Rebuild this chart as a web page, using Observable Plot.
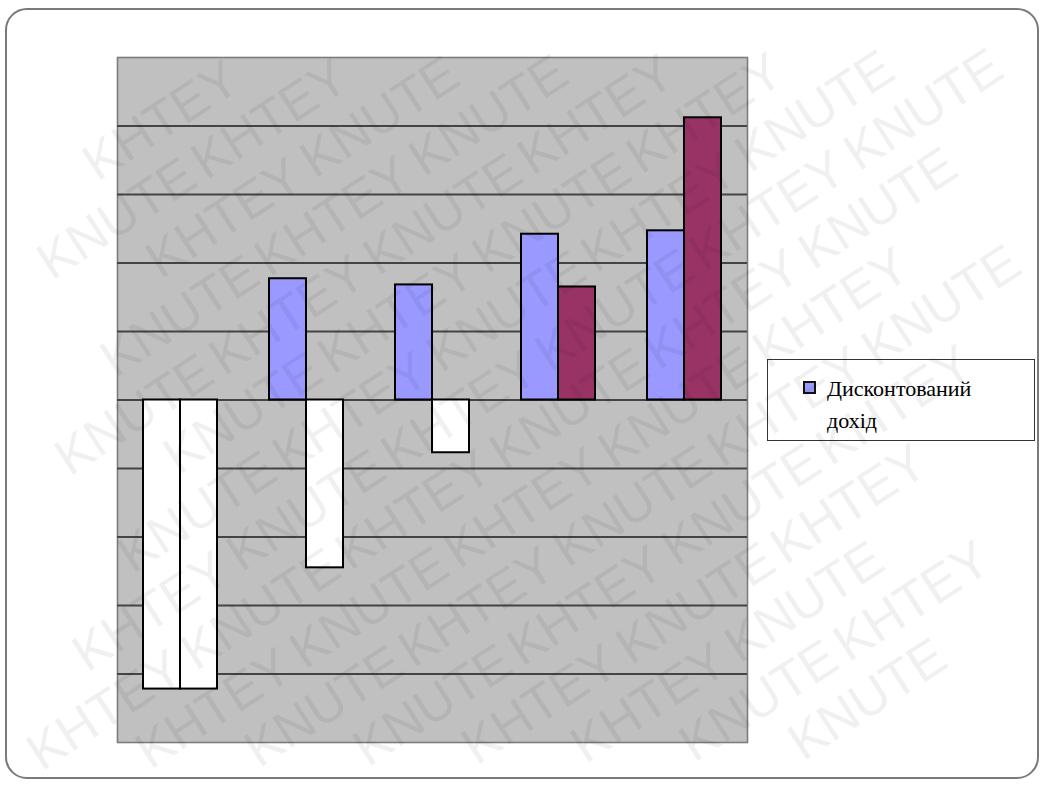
<!DOCTYPE html>
<html>
<head>
<meta charset="utf-8">
<script src="https://cdn.jsdelivr.net/npm/d3@7"></script>
<script src="https://cdn.jsdelivr.net/npm/@observablehq/plot@0.6"></script>
<style>
  html, body { margin: 0; padding: 0; background: #fff; }
  #wrap { position: relative; width: 1043px; height: 785px; overflow: hidden; }
  #border { position: absolute; left: 5px; top: 8px; width: 1034px; height: 771px;
            border: 2px solid #7a7a7a; border-radius: 22px; box-sizing: border-box; }
  #chart { position: absolute; left: 0; top: 0; }
  #legend { position: absolute; left: 767px; top: 359px; width: 268px; height: 82px;
            box-sizing: border-box; border: 1px solid #333; background: #fff;
            font-family: "Liberation Serif", "DejaVu Serif", "Times New Roman", serif; font-size: 22px;
            color: #000; }
  #legend .sw { position: absolute; left: 35px; top: 21px; width: 9px; height: 9px;
                border: 2px solid #111; }
  #legend .tx { position: absolute; left: 59px; top: 13px; line-height: 32px; }
  #wm { position: absolute; left: 0; top: 0; pointer-events: none; }
</style>
</head>
<body>
<div id="wrap">
  <div id="border"></div>
  <div id="chart"></div>
  <div id="legend"></div>
  <svg id="wm" width="1043" height="785"></svg>
</div>
<script>
// ---- data ----
const categories = ["1", "2", "3", "4", "5"];
const seriesNames = ["Дисконтований дохід", "Накопичений дисконтований дохід"];
const discountedIncome = [-422, 177, 168, 242, 247];
const cumulativeIncome = [-422, -245, -77, 165, 412];
const seriesColors = ["#9999ff", "#993366"];
const negativeFill = "#ffffff";
const yTicks = [-400, -300, -200, -100, 0, 100, 200, 300, 400];
const yDomain = [-500, 500];
const legendLabel = "Дисконтований<br>дохід";
const watermarkWords = ["KHTEY", "KNUTE"];

const rows1 = categories.map((c, i) => ({cat: c, series: seriesNames[0], value: discountedIncome[i]}));
const rows2 = categories.map((c, i) => ({cat: c, series: seriesNames[1], value: cumulativeIncome[i]}));

const fillFor = (k) => (d) => d.value < 0 ? negativeFill : seriesColors[k];

const chart = Plot.plot({
  width: 1043,
  height: 785,
  marginLeft: 117,
  marginRight: 296,
  marginTop: 57,
  marginBottom: 43,
  x: {domain: categories, padding: 0, axis: null},
  y: {domain: yDomain, axis: null},
  color: {type: "identity"},
  style: {background: "transparent"},
  marks: [
    Plot.frame({fill: "#c0c0c0", stroke: "#7c7c7c", strokeWidth: 1.6}),
    Plot.ruleY(yTicks, {stroke: "#444", strokeWidth: 2}),
    Plot.barY(rows1, {x: "cat", y: "value", fill: fillFor(0), stroke: "#000", strokeWidth: 2,
                      insetLeft: 26, insetRight: 63}),
    Plot.barY(rows2, {x: "cat", y: "value", fill: fillFor(1), stroke: "#000", strokeWidth: 2,
                      insetLeft: 63, insetRight: 26})
  ]
});
document.getElementById("chart").appendChild(chart);

// legend
const lg = document.getElementById("legend");
lg.innerHTML = `<div class="sw" style="background:${seriesColors[0]}"></div><div class="tx">${legendLabel}</div>`;

// watermark (decorative): keep only words that lie fully inside the picture
const wm = d3.select("#wm");
const g = wm.append("g").attr("transform", "rotate(-33 520 392)");
for (let r = -13; r <= 13; r++) {
  for (let k = 0; k < 18; k++) {
    const t = g.append("text")
      .attr("x", -1100 + (((r % 2) + 2) % 2) * 92 + k * 184)
      .attr("y", 392 + r * 58)
      .attr("font-family", "Liberation Sans, Arial, sans-serif")
      .attr("font-size", 52)
      .attr("fill", "rgba(0,0,0,0.06)")
      .text(watermarkWords[(k + Math.abs(r)) % 2]);
    const b = t.node().getBoundingClientRect();
    if (b.left < 1 || b.top < 1 || b.right > 1042 || b.bottom > 784) t.remove();
  }
}
</script>
</body>
</html>
